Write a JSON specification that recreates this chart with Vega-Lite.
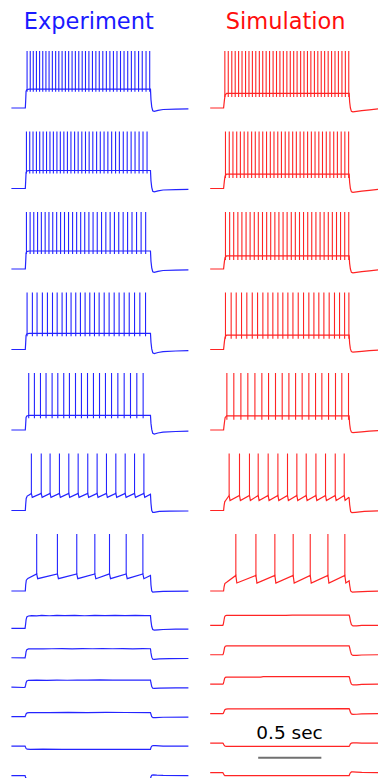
{
"$schema":"https://vega.github.io/schema/vega-lite/v6.json",
"background":"white",
"padding":{"left":8.4,"top":11,"right":0,"bottom":0},
"spacing":15.8,
"config":{"view":{"stroke":null},"axis":{"disable":true},"text":{"font":"DejaVu Sans"}},
"resolve":{"scale":{"x":"independent","y":"independent"}},
"datasets":{
"E":[
{"r":1,"t":0.612,"lab":"Experiment"},
{"r":1,"t":0,"v":-70},{"r":1,"t":0.11,"v":-70},{"r":1,"t":0.113,"v":-58},{"r":1,"t":0.116,"v":-42},{"r":1,"t":0.122,"v":-39.5},{"r":1,"t":0.14,"v":-38.5},{"r":1,"t":1.1,"v":-38.5},{"r":1,"t":1.104,"v":-56},{"r":1,"t":1.11,"v":-68},{"r":1,"t":1.118,"v":-74.5},{"r":1,"t":1.13,"v":-75.5},{"r":1,"t":1.16,"v":-74},{"r":1,"t":1.2,"v":-72.5},{"r":1,"t":1.3,"v":-71.8},{"r":1,"t":1.4,"v":-71.5},
{"r":1,"t":0.124,"lo":-43},{"r":1,"t":0.149,"lo":-43},{"r":1,"t":0.173,"lo":-43},{"r":1,"t":0.198,"lo":-43},{"r":1,"t":0.223,"lo":-43},{"r":1,"t":0.248,"lo":-43},{"r":1,"t":0.273,"lo":-43},{"r":1,"t":0.298,"lo":-43},{"r":1,"t":0.324,"lo":-43},{"r":1,"t":0.35,"lo":-43},{"r":1,"t":0.375,"lo":-43},{"r":1,"t":0.401,"lo":-43},{"r":1,"t":0.427,"lo":-43},{"r":1,"t":0.453,"lo":-43},{"r":1,"t":0.48,"lo":-43},{"r":1,"t":0.506,"lo":-43},{"r":1,"t":0.533,"lo":-43},{"r":1,"t":0.56,"lo":-43},{"r":1,"t":0.586,"lo":-43},{"r":1,"t":0.613,"lo":-43},{"r":1,"t":0.641,"lo":-43},{"r":1,"t":0.668,"lo":-43},{"r":1,"t":0.695,"lo":-43},{"r":1,"t":0.723,"lo":-43},{"r":1,"t":0.751,"lo":-43},{"r":1,"t":0.779,"lo":-43},{"r":1,"t":0.807,"lo":-43},{"r":1,"t":0.835,"lo":-43},{"r":1,"t":0.863,"lo":-43},{"r":1,"t":0.891,"lo":-43},{"r":1,"t":0.92,"lo":-43},{"r":1,"t":0.949,"lo":-43},{"r":1,"t":0.977,"lo":-43},{"r":1,"t":1.006,"lo":-43},{"r":1,"t":1.035,"lo":-43},{"r":1,"t":1.065,"lo":-43},{"r":1,"t":1.094,"lo":-43},
{"r":2,"t":0,"v":-70},{"r":2,"t":0.11,"v":-70},{"r":2,"t":0.113,"v":-58},{"r":2,"t":0.116,"v":-43.5},{"r":2,"t":0.122,"v":-41},{"r":2,"t":0.14,"v":-40},{"r":2,"t":1.1,"v":-40},{"r":2,"t":1.104,"v":-57},{"r":2,"t":1.11,"v":-68},{"r":2,"t":1.118,"v":-74.5},{"r":2,"t":1.13,"v":-75.5},{"r":2,"t":1.16,"v":-74},{"r":2,"t":1.2,"v":-72.5},{"r":2,"t":1.3,"v":-71.8},{"r":2,"t":1.4,"v":-71.5},
{"r":2,"t":0.119,"lo":-45},{"r":2,"t":0.145,"lo":-45},{"r":2,"t":0.171,"lo":-45},{"r":2,"t":0.198,"lo":-45},{"r":2,"t":0.224,"lo":-45},{"r":2,"t":0.251,"lo":-45},{"r":2,"t":0.278,"lo":-45},{"r":2,"t":0.305,"lo":-45},{"r":2,"t":0.332,"lo":-45},{"r":2,"t":0.36,"lo":-45},{"r":2,"t":0.387,"lo":-45},{"r":2,"t":0.415,"lo":-45},{"r":2,"t":0.443,"lo":-45},{"r":2,"t":0.471,"lo":-45},{"r":2,"t":0.5,"lo":-45},{"r":2,"t":0.528,"lo":-45},{"r":2,"t":0.557,"lo":-45},{"r":2,"t":0.586,"lo":-45},{"r":2,"t":0.615,"lo":-45},{"r":2,"t":0.644,"lo":-45},{"r":2,"t":0.674,"lo":-45},{"r":2,"t":0.703,"lo":-45},{"r":2,"t":0.733,"lo":-45},{"r":2,"t":0.763,"lo":-45},{"r":2,"t":0.793,"lo":-45},{"r":2,"t":0.824,"lo":-45},{"r":2,"t":0.854,"lo":-45},{"r":2,"t":0.885,"lo":-45},{"r":2,"t":0.916,"lo":-45},{"r":2,"t":0.947,"lo":-45},{"r":2,"t":0.978,"lo":-45},{"r":2,"t":1.01,"lo":-45},{"r":2,"t":1.041,"lo":-45},{"r":2,"t":1.073,"lo":-45},
{"r":3,"t":0,"v":-70},{"r":3,"t":0.11,"v":-70},{"r":3,"t":0.113,"v":-58},{"r":3,"t":0.116,"v":-43.5},{"r":3,"t":0.122,"v":-41},{"r":3,"t":0.14,"v":-40},{"r":3,"t":1.1,"v":-40},{"r":3,"t":1.104,"v":-57},{"r":3,"t":1.11,"v":-68},{"r":3,"t":1.118,"v":-74.5},{"r":3,"t":1.13,"v":-75.5},{"r":3,"t":1.16,"v":-74},{"r":3,"t":1.2,"v":-72.5},{"r":3,"t":1.3,"v":-71.8},{"r":3,"t":1.4,"v":-71.5},
{"r":3,"t":0.119,"lo":-45},{"r":3,"t":0.148,"lo":-45},{"r":3,"t":0.177,"lo":-45},{"r":3,"t":0.207,"lo":-45},{"r":3,"t":0.237,"lo":-45},{"r":3,"t":0.267,"lo":-45},{"r":3,"t":0.297,"lo":-45},{"r":3,"t":0.327,"lo":-45},{"r":3,"t":0.358,"lo":-45},{"r":3,"t":0.389,"lo":-45},{"r":3,"t":0.42,"lo":-45},{"r":3,"t":0.452,"lo":-45},{"r":3,"t":0.484,"lo":-45},{"r":3,"t":0.516,"lo":-45},{"r":3,"t":0.548,"lo":-45},{"r":3,"t":0.58,"lo":-45},{"r":3,"t":0.613,"lo":-45},{"r":3,"t":0.646,"lo":-45},{"r":3,"t":0.679,"lo":-45},{"r":3,"t":0.713,"lo":-45},{"r":3,"t":0.747,"lo":-45},{"r":3,"t":0.781,"lo":-45},{"r":3,"t":0.815,"lo":-45},{"r":3,"t":0.849,"lo":-45},{"r":3,"t":0.884,"lo":-45},{"r":3,"t":0.919,"lo":-45},{"r":3,"t":0.954,"lo":-45},{"r":3,"t":0.99,"lo":-45},{"r":3,"t":1.026,"lo":-45},{"r":3,"t":1.062,"lo":-45},
{"r":4,"t":0,"v":-70},{"r":4,"t":0.11,"v":-70},{"r":4,"t":0.113,"v":-59},{"r":4,"t":0.116,"v":-46.5},{"r":4,"t":0.122,"v":-44},{"r":4,"t":0.14,"v":-43},{"r":4,"t":1.1,"v":-43},{"r":4,"t":1.104,"v":-58},{"r":4,"t":1.11,"v":-69},{"r":4,"t":1.118,"v":-75.5},{"r":4,"t":1.13,"v":-76.7},{"r":4,"t":1.16,"v":-75},{"r":4,"t":1.2,"v":-73.5},{"r":4,"t":1.3,"v":-72.5},{"r":4,"t":1.4,"v":-72},
{"r":4,"t":0.124,"lo":-48},{"r":4,"t":0.166,"lo":-48},{"r":4,"t":0.203,"lo":-48},{"r":4,"t":0.245,"lo":-48},{"r":4,"t":0.285,"lo":-48},{"r":4,"t":0.325,"lo":-48},{"r":4,"t":0.362,"lo":-48},{"r":4,"t":0.401,"lo":-48},{"r":4,"t":0.435,"lo":-48},{"r":4,"t":0.472,"lo":-48},{"r":4,"t":0.509,"lo":-48},{"r":4,"t":0.546,"lo":-48},{"r":4,"t":0.583,"lo":-48},{"r":4,"t":0.62,"lo":-48},{"r":4,"t":0.657,"lo":-48},{"r":4,"t":0.694,"lo":-48},{"r":4,"t":0.734,"lo":-48},{"r":4,"t":0.773,"lo":-48},{"r":4,"t":0.813,"lo":-48},{"r":4,"t":0.852,"lo":-48},{"r":4,"t":0.892,"lo":-48},{"r":4,"t":0.932,"lo":-48},{"r":4,"t":0.974,"lo":-48},{"r":4,"t":1.016,"lo":-48},{"r":4,"t":1.061,"lo":-48},
{"r":5,"t":0,"v":-70},{"r":5,"t":0.11,"v":-70},{"r":5,"t":0.113,"v":-60},{"r":5,"t":0.116,"v":-49},{"r":5,"t":0.122,"v":-46.5},{"r":5,"t":0.14,"v":-45.5},{"r":5,"t":1.1,"v":-45.5},{"r":5,"t":1.104,"v":-59},{"r":5,"t":1.11,"v":-69},{"r":5,"t":1.118,"v":-75.5},{"r":5,"t":1.13,"v":-76.7},{"r":5,"t":1.16,"v":-75},{"r":5,"t":1.2,"v":-73.5},{"r":5,"t":1.3,"v":-72.5},{"r":5,"t":1.4,"v":-72},
{"r":5,"t":0.137,"lo":-50.5},{"r":5,"t":0.182,"lo":-50.5},{"r":5,"t":0.23,"lo":-50.5},{"r":5,"t":0.274,"lo":-50.5},{"r":5,"t":0.322,"lo":-50.5},{"r":5,"t":0.367,"lo":-50.5},{"r":5,"t":0.414,"lo":-50.5},{"r":5,"t":0.459,"lo":-50.5},{"r":5,"t":0.507,"lo":-50.5},{"r":5,"t":0.554,"lo":-50.5},{"r":5,"t":0.602,"lo":-50.5},{"r":5,"t":0.649,"lo":-50.5},{"r":5,"t":0.697,"lo":-50.5},{"r":5,"t":0.744,"lo":-50.5},{"r":5,"t":0.792,"lo":-50.5},{"r":5,"t":0.842,"lo":-50.5},{"r":5,"t":0.892,"lo":-50.5},{"r":5,"t":0.942,"lo":-50.5},{"r":5,"t":0.992,"lo":-50.5},{"r":5,"t":1.042,"lo":-50.5},
{"r":6,"t":0,"v":-70},{"r":6,"t":0.11,"v":-70},{"r":6,"t":0.113,"v":-60},{"r":6,"t":0.117,"v":-50},{"r":6,"t":0.125,"v":-46},{"r":6,"t":0.14,"v":-44},{"r":6,"t":0.158,"v":-41.5},{"r":6,"t":0.165,"v":-48},{"r":6,"t":0.236,"v":-41.5},{"r":6,"t":0.243,"v":-48},{"r":6,"t":0.306,"v":-41.5},{"r":6,"t":0.313,"v":-48},{"r":6,"t":0.38,"v":-41.5},{"r":6,"t":0.387,"v":-48},{"r":6,"t":0.454,"v":-41.5},{"r":6,"t":0.461,"v":-48},{"r":6,"t":0.528,"v":-41.5},{"r":6,"t":0.535,"v":-48},{"r":6,"t":0.604,"v":-41.5},{"r":6,"t":0.611,"v":-48},{"r":6,"t":0.678,"v":-41.5},{"r":6,"t":0.685,"v":-48},{"r":6,"t":0.752,"v":-41.5},{"r":6,"t":0.759,"v":-48},{"r":6,"t":0.826,"v":-41.5},{"r":6,"t":0.833,"v":-48},{"r":6,"t":0.9,"v":-41.5},{"r":6,"t":0.907,"v":-48},{"r":6,"t":0.974,"v":-41.5},{"r":6,"t":0.981,"v":-48},{"r":6,"t":1.048,"v":-41.5},{"r":6,"t":1.055,"v":-48},{"r":6,"t":1.1,"v":-43},{"r":6,"t":1.104,"v":-58},{"r":6,"t":1.11,"v":-70},{"r":6,"t":1.118,"v":-73},{"r":6,"t":1.13,"v":-73},{"r":6,"t":1.17,"v":-71.5},{"r":6,"t":1.25,"v":-71},{"r":6,"t":1.4,"v":-70.8},
{"r":6,"t":0.158,"lo":-41.5},{"r":6,"t":0.236,"lo":-41.5},{"r":6,"t":0.306,"lo":-41.5},{"r":6,"t":0.38,"lo":-41.5},{"r":6,"t":0.454,"lo":-41.5},{"r":6,"t":0.528,"lo":-41.5},{"r":6,"t":0.604,"lo":-41.5},{"r":6,"t":0.678,"lo":-41.5},{"r":6,"t":0.752,"lo":-41.5},{"r":6,"t":0.826,"lo":-41.5},{"r":6,"t":0.9,"lo":-41.5},{"r":6,"t":0.974,"lo":-41.5},{"r":6,"t":1.048,"lo":-41.5},
{"r":7,"t":0,"v":-70},{"r":7,"t":0.11,"v":-70},{"r":7,"t":0.113,"v":-60},{"r":7,"t":0.118,"v":-52},{"r":7,"t":0.13,"v":-49},{"r":7,"t":0.2,"v":-41.5},{"r":7,"t":0.208,"v":-49.5},{"r":7,"t":0.364,"v":-41.5},{"r":7,"t":0.372,"v":-49.5},{"r":7,"t":0.517,"v":-41.5},{"r":7,"t":0.525,"v":-49.5},{"r":7,"t":0.66,"v":-41.5},{"r":7,"t":0.668,"v":-49.5},{"r":7,"t":0.776,"v":-41.5},{"r":7,"t":0.784,"v":-49.5},{"r":7,"t":0.908,"v":-41.5},{"r":7,"t":0.916,"v":-49.5},{"r":7,"t":1.04,"v":-41.5},{"r":7,"t":1.048,"v":-49.5},{"r":7,"t":1.1,"v":-44},{"r":7,"t":1.104,"v":-60},{"r":7,"t":1.11,"v":-70},{"r":7,"t":1.118,"v":-72},{"r":7,"t":1.14,"v":-71.5},{"r":7,"t":1.2,"v":-70.5},{"r":7,"t":1.4,"v":-70.3},
{"r":7,"t":0.2,"lo":-41.5},{"r":7,"t":0.364,"lo":-41.5},{"r":7,"t":0.517,"lo":-41.5},{"r":7,"t":0.66,"lo":-41.5},{"r":7,"t":0.776,"lo":-41.5},{"r":7,"t":0.908,"lo":-41.5},{"r":7,"t":1.04,"lo":-41.5},
{"r":8,"t":0,"v":-70},{"r":8,"t":0.108,"v":-70},{"r":8,"t":0.112,"v":-64},{"r":8,"t":0.116,"v":-56},{"r":8,"t":0.122,"v":-51},{"r":8,"t":0.135,"v":-49.5},{"r":8,"t":0.16,"v":-48.8},{"r":8,"t":0.2,"v":-49.2},{"r":8,"t":0.24,"v":-48.6},{"r":8,"t":0.3,"v":-49.1},{"r":8,"t":0.36,"v":-48.5},{"r":8,"t":0.42,"v":-49},{"r":8,"t":0.5,"v":-48.6},{"r":8,"t":0.58,"v":-49.1},{"r":8,"t":0.66,"v":-48.5},{"r":8,"t":0.74,"v":-48.9},{"r":8,"t":0.82,"v":-48.4},{"r":8,"t":0.9,"v":-48.9},{"r":8,"t":0.98,"v":-48.5},{"r":8,"t":1.06,"v":-48.9},{"r":8,"t":1.1,"v":-49},{"r":8,"t":1.104,"v":-58},{"r":8,"t":1.11,"v":-67},{"r":8,"t":1.118,"v":-72},{"r":8,"t":1.13,"v":-73},{"r":8,"t":1.16,"v":-72.5},{"r":8,"t":1.2,"v":-72},{"r":8,"t":1.3,"v":-71.5},{"r":8,"t":1.4,"v":-71.3},
{"r":9,"t":0,"v":-70},{"r":9,"t":0.108,"v":-70.3},{"r":9,"t":0.112,"v":-66},{"r":9,"t":0.116,"v":-60},{"r":9,"t":0.122,"v":-56.5},{"r":9,"t":0.135,"v":-55.3},{"r":9,"t":0.18,"v":-55},{"r":9,"t":0.25,"v":-55.2},{"r":9,"t":0.32,"v":-55},{"r":9,"t":0.4,"v":-54.8},{"r":9,"t":0.48,"v":-55.1},{"r":9,"t":0.56,"v":-54.7},{"r":9,"t":0.64,"v":-55},{"r":9,"t":0.72,"v":-54.6},{"r":9,"t":0.8,"v":-55},{"r":9,"t":0.88,"v":-54.7},{"r":9,"t":0.96,"v":-55.1},{"r":9,"t":1.04,"v":-54.8},{"r":9,"t":1.1,"v":-55},{"r":9,"t":1.104,"v":-62},{"r":9,"t":1.11,"v":-69},{"r":9,"t":1.118,"v":-72.5},{"r":9,"t":1.13,"v":-72.8},{"r":9,"t":1.17,"v":-72},{"r":9,"t":1.25,"v":-71.5},{"r":9,"t":1.4,"v":-71.3},
{"r":10,"t":0,"v":-70},{"r":10,"t":0.1,"v":-70.5},{"r":10,"t":0.108,"v":-70},{"r":10,"t":0.112,"v":-67},{"r":10,"t":0.116,"v":-62.5},{"r":10,"t":0.122,"v":-59.5},{"r":10,"t":0.135,"v":-58.5},{"r":10,"t":0.2,"v":-58.2},{"r":10,"t":0.28,"v":-58.5},{"r":10,"t":0.36,"v":-58.1},{"r":10,"t":0.44,"v":-58.4},{"r":10,"t":0.52,"v":-58},{"r":10,"t":0.6,"v":-58.3},{"r":10,"t":0.7,"v":-57.9},{"r":10,"t":0.8,"v":-58.2},{"r":10,"t":0.9,"v":-58},{"r":10,"t":1,"v":-58.3},{"r":10,"t":1.1,"v":-58.3},{"r":10,"t":1.104,"v":-63},{"r":10,"t":1.11,"v":-69},{"r":10,"t":1.118,"v":-71.8},{"r":10,"t":1.13,"v":-72},{"r":10,"t":1.17,"v":-71.5},{"r":10,"t":1.3,"v":-71.3},{"r":10,"t":1.4,"v":-71.3},
{"r":11,"t":0,"v":-70},{"r":11,"t":0.108,"v":-70},{"r":11,"t":0.112,"v":-68},{"r":11,"t":0.117,"v":-65},{"r":11,"t":0.125,"v":-63.8},{"r":11,"t":0.14,"v":-63.3},{"r":11,"t":0.3,"v":-63.3},{"r":11,"t":0.45,"v":-62.8},{"r":11,"t":0.6,"v":-63.2},{"r":11,"t":0.75,"v":-62.9},{"r":11,"t":0.9,"v":-63.1},{"r":11,"t":1.1,"v":-63.3},{"r":11,"t":1.104,"v":-66},{"r":11,"t":1.11,"v":-70},{"r":11,"t":1.12,"v":-71.5},{"r":11,"t":1.14,"v":-71.7},{"r":11,"t":1.2,"v":-71},{"r":11,"t":1.4,"v":-70.8},
{"r":12,"t":0,"v":-70},{"r":12,"t":0.108,"v":-70},{"r":12,"t":0.112,"v":-72},{"r":12,"t":0.117,"v":-74.3},{"r":12,"t":0.125,"v":-75.2},{"r":12,"t":0.15,"v":-75.5},{"r":12,"t":0.25,"v":-75.2},{"r":12,"t":0.4,"v":-75.5},{"r":12,"t":0.7,"v":-75.4},{"r":12,"t":1.1,"v":-75.5},{"r":12,"t":1.104,"v":-72.5},{"r":12,"t":1.11,"v":-70},{"r":12,"t":1.12,"v":-69},{"r":12,"t":1.14,"v":-69.3},{"r":12,"t":1.2,"v":-70},{"r":12,"t":1.4,"v":-70},
{"r":13,"t":0,"v":-70},{"r":13,"t":0.108,"v":-70},{"r":13,"t":0.112,"v":-73},{"r":13,"t":0.118,"v":-75.3},{"r":13,"t":1.1,"v":-75.3},{"r":13,"t":1.104,"v":-72},{"r":13,"t":1.11,"v":-69.5},{"r":13,"t":1.12,"v":-68.8},{"r":13,"t":1.15,"v":-69.3},{"r":13,"t":1.2,"v":-69.8},{"r":13,"t":1.4,"v":-70}
],
"S":[
{"r":1,"t":0.598,"lab":"Simulation"},
{"r":12,"t":0.628,"lab":"0.5 sec"},
{"r":12,"t":0.38,"t2":0.88},
{"r":1,"t":0,"v":-70},{"r":1,"t":0.106,"v":-70},{"r":1,"t":0.109,"v":-64},{"r":1,"t":0.113,"v":-56},{"r":1,"t":0.118,"v":-48.5},{"r":1,"t":0.13,"v":-45.5},{"r":1,"t":1.1,"v":-45.5},{"r":1,"t":1.104,"v":-60},{"r":1,"t":1.11,"v":-70},{"r":1,"t":1.118,"v":-75.5},{"r":1,"t":1.13,"v":-76.5},{"r":1,"t":1.2,"v":-74.5},{"r":1,"t":1.26,"v":-73},{"r":1,"t":1.33,"v":-71.5},
{"r":1,"t":0.116,"lo":-51.5},{"r":1,"t":0.143,"lo":-51.5},{"r":1,"t":0.171,"lo":-51.5},{"r":1,"t":0.198,"lo":-51.5},{"r":1,"t":0.225,"lo":-51.5},{"r":1,"t":0.252,"lo":-51.5},{"r":1,"t":0.28,"lo":-51.5},{"r":1,"t":0.307,"lo":-51.5},{"r":1,"t":0.334,"lo":-51.5},{"r":1,"t":0.361,"lo":-51.5},{"r":1,"t":0.389,"lo":-51.5},{"r":1,"t":0.416,"lo":-51.5},{"r":1,"t":0.443,"lo":-51.5},{"r":1,"t":0.47,"lo":-51.5},{"r":1,"t":0.498,"lo":-51.5},{"r":1,"t":0.525,"lo":-51.5},{"r":1,"t":0.552,"lo":-51.5},{"r":1,"t":0.579,"lo":-51.5},{"r":1,"t":0.607,"lo":-51.5},{"r":1,"t":0.634,"lo":-51.5},{"r":1,"t":0.661,"lo":-51.5},{"r":1,"t":0.688,"lo":-51.5},{"r":1,"t":0.716,"lo":-51.5},{"r":1,"t":0.743,"lo":-51.5},{"r":1,"t":0.77,"lo":-51.5},{"r":1,"t":0.797,"lo":-51.5},{"r":1,"t":0.825,"lo":-51.5},{"r":1,"t":0.852,"lo":-51.5},{"r":1,"t":0.879,"lo":-51.5},{"r":1,"t":0.906,"lo":-51.5},{"r":1,"t":0.934,"lo":-51.5},{"r":1,"t":0.961,"lo":-51.5},{"r":1,"t":0.988,"lo":-51.5},{"r":1,"t":1.015,"lo":-51.5},{"r":1,"t":1.043,"lo":-51.5},{"r":1,"t":1.07,"lo":-51.5},{"r":1,"t":1.097,"lo":-51.5},
{"r":2,"t":0,"v":-70},{"r":2,"t":0.106,"v":-70},{"r":2,"t":0.109,"v":-64},{"r":2,"t":0.113,"v":-56},{"r":2,"t":0.118,"v":-49},{"r":2,"t":0.13,"v":-46},{"r":2,"t":1.1,"v":-46},{"r":2,"t":1.104,"v":-60},{"r":2,"t":1.11,"v":-70},{"r":2,"t":1.118,"v":-75.5},{"r":2,"t":1.13,"v":-76.5},{"r":2,"t":1.2,"v":-74.5},{"r":2,"t":1.26,"v":-73},{"r":2,"t":1.33,"v":-71.5},
{"r":2,"t":0.121,"lo":-52.5},{"r":2,"t":0.151,"lo":-52.5},{"r":2,"t":0.18,"lo":-52.5},{"r":2,"t":0.21,"lo":-52.5},{"r":2,"t":0.239,"lo":-52.5},{"r":2,"t":0.269,"lo":-52.5},{"r":2,"t":0.298,"lo":-52.5},{"r":2,"t":0.328,"lo":-52.5},{"r":2,"t":0.357,"lo":-52.5},{"r":2,"t":0.387,"lo":-52.5},{"r":2,"t":0.416,"lo":-52.5},{"r":2,"t":0.446,"lo":-52.5},{"r":2,"t":0.476,"lo":-52.5},{"r":2,"t":0.505,"lo":-52.5},{"r":2,"t":0.535,"lo":-52.5},{"r":2,"t":0.564,"lo":-52.5},{"r":2,"t":0.594,"lo":-52.5},{"r":2,"t":0.623,"lo":-52.5},{"r":2,"t":0.653,"lo":-52.5},{"r":2,"t":0.682,"lo":-52.5},{"r":2,"t":0.712,"lo":-52.5},{"r":2,"t":0.741,"lo":-52.5},{"r":2,"t":0.771,"lo":-52.5},{"r":2,"t":0.801,"lo":-52.5},{"r":2,"t":0.83,"lo":-52.5},{"r":2,"t":0.86,"lo":-52.5},{"r":2,"t":0.889,"lo":-52.5},{"r":2,"t":0.919,"lo":-52.5},{"r":2,"t":0.948,"lo":-52.5},{"r":2,"t":0.978,"lo":-52.5},{"r":2,"t":1.007,"lo":-52.5},{"r":2,"t":1.037,"lo":-52.5},{"r":2,"t":1.066,"lo":-52.5},{"r":2,"t":1.096,"lo":-52.5},
{"r":3,"t":0,"v":-70},{"r":3,"t":0.106,"v":-70},{"r":3,"t":0.109,"v":-64},{"r":3,"t":0.113,"v":-57},{"r":3,"t":0.118,"v":-51},{"r":3,"t":0.13,"v":-48},{"r":3,"t":1.1,"v":-48},{"r":3,"t":1.104,"v":-61},{"r":3,"t":1.11,"v":-70},{"r":3,"t":1.118,"v":-75.5},{"r":3,"t":1.13,"v":-76.5},{"r":3,"t":1.2,"v":-74.5},{"r":3,"t":1.26,"v":-73},{"r":3,"t":1.33,"v":-71.5},
{"r":3,"t":0.121,"lo":-55},{"r":3,"t":0.154,"lo":-55},{"r":3,"t":0.186,"lo":-55},{"r":3,"t":0.219,"lo":-55},{"r":3,"t":0.251,"lo":-55},{"r":3,"t":0.284,"lo":-55},{"r":3,"t":0.316,"lo":-55},{"r":3,"t":0.349,"lo":-55},{"r":3,"t":0.381,"lo":-55},{"r":3,"t":0.414,"lo":-55},{"r":3,"t":0.447,"lo":-55},{"r":3,"t":0.479,"lo":-55},{"r":3,"t":0.512,"lo":-55},{"r":3,"t":0.544,"lo":-55},{"r":3,"t":0.577,"lo":-55},{"r":3,"t":0.609,"lo":-55},{"r":3,"t":0.642,"lo":-55},{"r":3,"t":0.674,"lo":-55},{"r":3,"t":0.707,"lo":-55},{"r":3,"t":0.739,"lo":-55},{"r":3,"t":0.772,"lo":-55},{"r":3,"t":0.804,"lo":-55},{"r":3,"t":0.837,"lo":-55},{"r":3,"t":0.87,"lo":-55},{"r":3,"t":0.902,"lo":-55},{"r":3,"t":0.935,"lo":-55},{"r":3,"t":0.967,"lo":-55},{"r":3,"t":1,"lo":-55},{"r":3,"t":1.032,"lo":-55},{"r":3,"t":1.065,"lo":-55},{"r":3,"t":1.097,"lo":-55},
{"r":4,"t":0,"v":-70},{"r":4,"t":0.106,"v":-70},{"r":4,"t":0.109,"v":-64},{"r":4,"t":0.113,"v":-56},{"r":4,"t":0.118,"v":-49},{"r":4,"t":0.13,"v":-46},{"r":4,"t":1.1,"v":-46},{"r":4,"t":1.104,"v":-60},{"r":4,"t":1.11,"v":-69},{"r":4,"t":1.118,"v":-73.5},{"r":4,"t":1.13,"v":-74.5},{"r":4,"t":1.2,"v":-73},{"r":4,"t":1.26,"v":-72},{"r":4,"t":1.33,"v":-71},
{"r":4,"t":0.121,"lo":-52},{"r":4,"t":0.166,"lo":-52},{"r":4,"t":0.206,"lo":-52},{"r":4,"t":0.248,"lo":-52},{"r":4,"t":0.29,"lo":-52},{"r":4,"t":0.333,"lo":-52},{"r":4,"t":0.375,"lo":-52},{"r":4,"t":0.417,"lo":-52},{"r":4,"t":0.457,"lo":-52},{"r":4,"t":0.496,"lo":-52},{"r":4,"t":0.536,"lo":-52},{"r":4,"t":0.575,"lo":-52},{"r":4,"t":0.615,"lo":-52},{"r":4,"t":0.655,"lo":-52},{"r":4,"t":0.697,"lo":-52},{"r":4,"t":0.739,"lo":-52},{"r":4,"t":0.781,"lo":-52},{"r":4,"t":0.821,"lo":-52},{"r":4,"t":0.86,"lo":-52},{"r":4,"t":0.9,"lo":-52},{"r":4,"t":0.942,"lo":-52},{"r":4,"t":0.984,"lo":-52},{"r":4,"t":1.024,"lo":-52},{"r":4,"t":1.064,"lo":-52},{"r":4,"t":1.098,"lo":-52},
{"r":5,"t":0,"v":-70},{"r":5,"t":0.106,"v":-70},{"r":5,"t":0.109,"v":-64},{"r":5,"t":0.113,"v":-57},{"r":5,"t":0.118,"v":-49.5},{"r":5,"t":0.13,"v":-46.5},{"r":5,"t":1.1,"v":-46.5},{"r":5,"t":1.104,"v":-60},{"r":5,"t":1.11,"v":-69},{"r":5,"t":1.118,"v":-73.5},{"r":5,"t":1.13,"v":-74.5},{"r":5,"t":1.2,"v":-73},{"r":5,"t":1.26,"v":-72},{"r":5,"t":1.33,"v":-71},
{"r":5,"t":0.132,"lo":-53},{"r":5,"t":0.187,"lo":-53},{"r":5,"t":0.243,"lo":-53},{"r":5,"t":0.298,"lo":-53},{"r":5,"t":0.354,"lo":-53},{"r":5,"t":0.409,"lo":-53},{"r":5,"t":0.462,"lo":-53},{"r":5,"t":0.517,"lo":-53},{"r":5,"t":0.57,"lo":-53},{"r":5,"t":0.623,"lo":-53},{"r":5,"t":0.676,"lo":-53},{"r":5,"t":0.728,"lo":-53},{"r":5,"t":0.781,"lo":-53},{"r":5,"t":0.834,"lo":-53},{"r":5,"t":0.884,"lo":-53},{"r":5,"t":0.937,"lo":-53},{"r":5,"t":0.992,"lo":-53},{"r":5,"t":1.042,"lo":-53},{"r":5,"t":1.095,"lo":-53},
{"r":6,"t":0,"v":-70},{"r":6,"t":0.106,"v":-70},{"r":6,"t":0.11,"v":-62},{"r":6,"t":0.115,"v":-55.5},{"r":6,"t":0.125,"v":-52.5},{"r":6,"t":0.15,"v":-45},{"r":6,"t":0.157,"v":-53.3},{"r":6,"t":0.232,"v":-45},{"r":6,"t":0.239,"v":-53.3},{"r":6,"t":0.311,"v":-45},{"r":6,"t":0.318,"v":-53.3},{"r":6,"t":0.38,"v":-45},{"r":6,"t":0.387,"v":-53.3},{"r":6,"t":0.459,"v":-45},{"r":6,"t":0.466,"v":-53.3},{"r":6,"t":0.536,"v":-45},{"r":6,"t":0.543,"v":-53.3},{"r":6,"t":0.612,"v":-45},{"r":6,"t":0.619,"v":-53.3},{"r":6,"t":0.686,"v":-45},{"r":6,"t":0.693,"v":-53.3},{"r":6,"t":0.76,"v":-45},{"r":6,"t":0.767,"v":-53.3},{"r":6,"t":0.837,"v":-45},{"r":6,"t":0.844,"v":-53.3},{"r":6,"t":0.913,"v":-45},{"r":6,"t":0.92,"v":-53.3},{"r":6,"t":0.99,"v":-45},{"r":6,"t":0.997,"v":-53.3},{"r":6,"t":1.061,"v":-45},{"r":6,"t":1.068,"v":-53.3},{"r":6,"t":1.096,"v":-48.5},{"r":6,"t":1.1,"v":-49},{"r":6,"t":1.104,"v":-60},{"r":6,"t":1.112,"v":-72},{"r":6,"t":1.122,"v":-73.5},{"r":6,"t":1.15,"v":-73},{"r":6,"t":1.22,"v":-71.5},{"r":6,"t":1.33,"v":-70.5},
{"r":6,"t":0.15,"lo":-45},{"r":6,"t":0.232,"lo":-45},{"r":6,"t":0.311,"lo":-45},{"r":6,"t":0.38,"lo":-45},{"r":6,"t":0.459,"lo":-45},{"r":6,"t":0.536,"lo":-45},{"r":6,"t":0.612,"lo":-45},{"r":6,"t":0.686,"lo":-45},{"r":6,"t":0.76,"lo":-45},{"r":6,"t":0.837,"lo":-45},{"r":6,"t":0.913,"lo":-45},{"r":6,"t":0.99,"lo":-45},{"r":6,"t":1.061,"lo":-45},
{"r":7,"t":0,"v":-70},{"r":7,"t":0.106,"v":-70},{"r":7,"t":0.11,"v":-63},{"r":7,"t":0.116,"v":-57.5},{"r":7,"t":0.13,"v":-55.5},{"r":7,"t":0.203,"v":-44},{"r":7,"t":0.211,"v":-56.7},{"r":7,"t":0.362,"v":-44},{"r":7,"t":0.37,"v":-56.7},{"r":7,"t":0.512,"v":-44},{"r":7,"t":0.52,"v":-56.7},{"r":7,"t":0.657,"v":-44},{"r":7,"t":0.665,"v":-56.7},{"r":7,"t":0.792,"v":-44},{"r":7,"t":0.8,"v":-56.7},{"r":7,"t":0.932,"v":-44},{"r":7,"t":0.94,"v":-56.7},{"r":7,"t":1.066,"v":-44},{"r":7,"t":1.074,"v":-56.7},{"r":7,"t":1.1,"v":-53},{"r":7,"t":1.104,"v":-60},{"r":7,"t":1.112,"v":-70},{"r":7,"t":1.125,"v":-72},{"r":7,"t":1.16,"v":-71.5},{"r":7,"t":1.25,"v":-70.5},{"r":7,"t":1.33,"v":-70.2},
{"r":7,"t":0.203,"lo":-44},{"r":7,"t":0.362,"lo":-44},{"r":7,"t":0.512,"lo":-44},{"r":7,"t":0.657,"lo":-44},{"r":7,"t":0.792,"lo":-44},{"r":7,"t":0.932,"lo":-44},{"r":7,"t":1.066,"lo":-44},
{"r":8,"t":0,"v":-70},{"r":8,"t":0.1,"v":-70},{"r":8,"t":0.104,"v":-68},{"r":8,"t":0.109,"v":-62},{"r":8,"t":0.114,"v":-56},{"r":8,"t":0.12,"v":-54},{"r":8,"t":0.13,"v":-53.5},{"r":8,"t":0.6,"v":-53.5},{"r":8,"t":0.65,"v":-53},{"r":8,"t":1.1,"v":-53},{"r":8,"t":1.104,"v":-56},{"r":8,"t":1.11,"v":-63},{"r":8,"t":1.118,"v":-69},{"r":8,"t":1.13,"v":-71},{"r":8,"t":1.16,"v":-71},{"r":8,"t":1.2,"v":-70.3},{"r":8,"t":1.33,"v":-70},
{"r":9,"t":0,"v":-70},{"r":9,"t":0.1,"v":-70},{"r":9,"t":0.104,"v":-68.5},{"r":9,"t":0.109,"v":-63.5},{"r":9,"t":0.114,"v":-58},{"r":9,"t":0.12,"v":-55.8},{"r":9,"t":0.13,"v":-55.2},{"r":9,"t":1.1,"v":-55},{"r":9,"t":1.104,"v":-58},{"r":9,"t":1.11,"v":-64},{"r":9,"t":1.118,"v":-69.5},{"r":9,"t":1.13,"v":-71.2},{"r":9,"t":1.16,"v":-71},{"r":9,"t":1.2,"v":-70.4},{"r":9,"t":1.33,"v":-70},
{"r":10,"t":0,"v":-70},{"r":10,"t":0.1,"v":-70},{"r":10,"t":0.104,"v":-69},{"r":10,"t":0.109,"v":-65},{"r":10,"t":0.114,"v":-60.5},{"r":10,"t":0.12,"v":-58.5},{"r":10,"t":0.13,"v":-58.2},{"r":10,"t":0.4,"v":-58.2},{"r":10,"t":0.42,"v":-57.5},{"r":10,"t":1.1,"v":-57.5},{"r":10,"t":1.104,"v":-60},{"r":10,"t":1.11,"v":-65.5},{"r":10,"t":1.118,"v":-70},{"r":10,"t":1.13,"v":-71.3},{"r":10,"t":1.16,"v":-71},{"r":10,"t":1.2,"v":-70.4},{"r":10,"t":1.33,"v":-70},
{"r":11,"t":0,"v":-70},{"r":11,"t":0.1,"v":-70},{"r":11,"t":0.104,"v":-69.5},{"r":11,"t":0.11,"v":-66.5},{"r":11,"t":0.116,"v":-63.5},{"r":11,"t":0.125,"v":-62.5},{"r":11,"t":0.14,"v":-62},{"r":11,"t":1.1,"v":-61.7},{"r":11,"t":1.104,"v":-63.5},{"r":11,"t":1.11,"v":-67.5},{"r":11,"t":1.118,"v":-70.5},{"r":11,"t":1.13,"v":-71.3},{"r":11,"t":1.16,"v":-71},{"r":11,"t":1.2,"v":-70.4},{"r":11,"t":1.33,"v":-70},
{"r":12,"t":0,"v":-70},{"r":12,"t":0.1,"v":-70},{"r":12,"t":0.104,"v":-71},{"r":12,"t":0.11,"v":-73.5},{"r":12,"t":0.118,"v":-75},{"r":12,"t":0.13,"v":-75.5},{"r":12,"t":1.1,"v":-75.5},{"r":12,"t":1.104,"v":-74},{"r":12,"t":1.11,"v":-71.5},{"r":12,"t":1.118,"v":-70},{"r":12,"t":1.13,"v":-69.5},{"r":12,"t":1.16,"v":-69.7},{"r":12,"t":1.2,"v":-70},{"r":12,"t":1.33,"v":-70},
{"r":13,"t":0,"v":-70},{"r":13,"t":0.1,"v":-70},{"r":13,"t":0.104,"v":-71.5},{"r":13,"t":0.11,"v":-74},{"r":13,"t":0.116,"v":-75.3},{"r":13,"t":1.1,"v":-75.3},{"r":13,"t":1.104,"v":-73},{"r":13,"t":1.11,"v":-70.5},{"r":13,"t":1.118,"v":-69},{"r":13,"t":1.13,"v":-68.8},{"r":13,"t":1.16,"v":-69.2},{"r":13,"t":1.2,"v":-69.6},{"r":13,"t":1.33,"v":-70}
]
},
"hconcat":[
{"data":{"name":"E"},"spacing":15.1,"resolve":{"scale":{"x":"independent","y":"independent"}},
"vconcat":[
{"transform":[{"filter":"datum.r<=7"}],"bounds":"flush","spacing":14.5,
"facet":{"row":{"field":"r","type":"ordinal","header":null}},
"spec":{"width":177,"height":66,"layer":[
{"transform":[{"filter":"isValid(datum.v)"}],"mark":{"type":"line","color":"#2424ff","strokeWidth":1.2},"encoding":{"x":{"field":"t","type":"quantitative","scale":{"domain":[0,1.4],"nice":false,"zero":false}},"y":{"field":"v","type":"quantitative","scale":{"domain":[-80,30],"nice":false,"zero":false}}}},
{"transform":[{"filter":"isValid(datum.lo)"}],"mark":{"type":"rule","color":"#2424ff","strokeWidth":1.1},"encoding":{"x":{"field":"t","type":"quantitative"},"y":{"field":"lo","type":"quantitative"},"y2":{"datum":25}}},
{"transform":[{"filter":"isValid(datum.lab)"}],"mark":{"type":"text","color":"#1a1aff","fontSize":22.5,"align":"center","baseline":"alphabetic"},"encoding":{"x":{"field":"t","type":"quantitative"},"y":{"datum":61},"text":{"field":"lab"}}}
]}},
{"transform":[{"filter":"datum.r>=8"}],"bounds":"flush","spacing":12.45,
"facet":{"row":{"field":"r","type":"ordinal","header":null}},
"spec":{"width":177,"height":16.5,"layer":[
{"transform":[{"filter":"isValid(datum.v)"}],"mark":{"type":"line","color":"#2424ff","strokeWidth":1.2},"encoding":{"x":{"field":"t","type":"quantitative","scale":{"domain":[0,1.4],"nice":false,"zero":false}},"y":{"field":"v","type":"quantitative","scale":{"domain":[-75.5,-48],"nice":false,"zero":false}}}}
]}}
]},
{"data":{"name":"S"},"spacing":15.1,"resolve":{"scale":{"x":"independent","y":"independent"}},
"vconcat":[
{"transform":[{"filter":"datum.r<=7"}],"bounds":"flush","spacing":14.5,
"facet":{"row":{"field":"r","type":"ordinal","header":null}},
"spec":{"width":168,"height":66,"layer":[
{"transform":[{"filter":"isValid(datum.v)"}],"mark":{"type":"line","color":"#ff2424","strokeWidth":1.2},"encoding":{"x":{"field":"t","type":"quantitative","scale":{"domain":[0,1.33],"nice":false,"zero":false}},"y":{"field":"v","type":"quantitative","scale":{"domain":[-80,30],"nice":false,"zero":false}}}},
{"transform":[{"filter":"isValid(datum.lo)"}],"mark":{"type":"rule","color":"#ff2424","strokeWidth":1.1},"encoding":{"x":{"field":"t","type":"quantitative"},"y":{"field":"lo","type":"quantitative"},"y2":{"datum":25}}},
{"transform":[{"filter":"isValid(datum.lab)"}],"mark":{"type":"text","color":"#ff0d0d","fontSize":22.5,"align":"center","baseline":"alphabetic"},"encoding":{"x":{"field":"t","type":"quantitative"},"y":{"datum":61},"text":{"field":"lab"}}}
]}},
{"transform":[{"filter":"datum.r>=8"}],"bounds":"flush","spacing":12.45,
"facet":{"row":{"field":"r","type":"ordinal","header":null}},
"spec":{"width":168,"height":16.5,"layer":[
{"transform":[{"filter":"isValid(datum.v)"}],"mark":{"type":"line","color":"#ff2424","strokeWidth":1.2},"encoding":{"x":{"field":"t","type":"quantitative","scale":{"domain":[0,1.33],"nice":false,"zero":false}},"y":{"field":"v","type":"quantitative","scale":{"domain":[-75.5,-48],"nice":false,"zero":false}}}},
{"transform":[{"filter":"isValid(datum.lab)"}],"mark":{"type":"text","color":"black","fontSize":18.5,"align":"center","baseline":"alphabetic"},"encoding":{"x":{"field":"t","type":"quantitative"},"y":{"datum":-62.5},"text":{"field":"lab"}}},
{"transform":[{"filter":"isValid(datum.t2)"}],"mark":{"type":"rule","color":"#707070","strokeWidth":2},"encoding":{"x":{"field":"t","type":"quantitative"},"x2":{"field":"t2"},"y":{"datum":-94.5}}}
]}}
]}
]
}
